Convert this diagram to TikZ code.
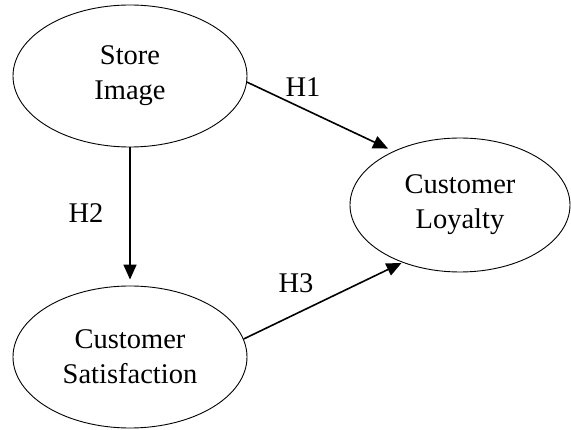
\documentclass[tikz,border=0pt]{standalone}
\usepackage{fontspec}
\setmainfont{Liberation Serif}
\usetikzlibrary{shapes.geometric,arrows.meta}
\begin{document}
\begin{tikzpicture}[x=1pt,y=-1pt,
  construct/.style={ellipse,draw,line width=0.9pt,inner sep=0pt,minimum width=234pt,minimum height=142pt,align=center,font=\fontsize{28.5}{35}\selectfont},
  path/.style={line width=1.6pt,-{Triangle[length=15pt,width=13pt]}},
  hyp/.style={font=\fontsize{28.5}{34}\selectfont}]
\fill[white] (0,0) rectangle (571,430);
\useasboundingbox (0,0) rectangle (571,430);
\node[construct] (si) at (130,76) {Store\\Image};
\node[construct,minimum width=220pt,minimum height=134pt] (cl) at (460,205) {Customer\\Loyalty};
\node[construct] (cs) at (130,357) {Customer\\Satisfaction};
\draw[path,shorten >=6pt] (si.-3) -- (cl.141.6);
\draw[path,shorten >=6pt] (si.south) -- (cs.north);
\draw[path,shorten >=1pt] (cs.9.9) -- (cl.225);
\node[hyp] (h1) at (303,87) {H1};
\node[hyp] (h2) at (86,213) {H2};
\node[hyp] (h3) at (296,283) {H3};
\end{tikzpicture}
\end{document}
